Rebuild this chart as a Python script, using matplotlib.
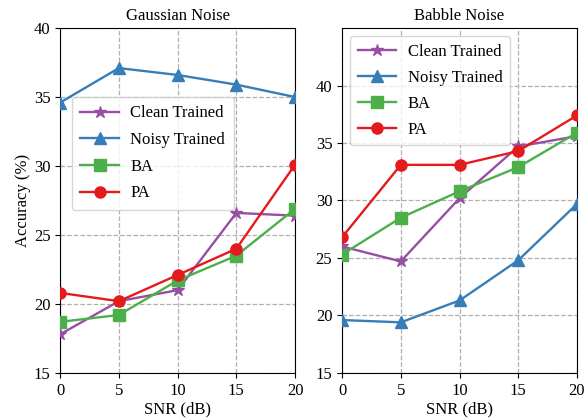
import matplotlib
matplotlib.use('Agg')
import matplotlib.pyplot as plt

plt.rcParams['font.family'] = ['Liberation Serif', 'DejaVu Serif']
plt.rcParams['font.size'] = 12

snr = [0, 5, 10, 15, 20]
labels = ['Clean Trained', 'Noisy Trained', 'BA', 'PA']
colors = ['#984ea3', '#377eb8', '#4daf4a', '#e41a1c']
markers = ['*', '^', 's', 'o']

gauss_clean = [17.8, 20.2, 21.0, 26.6, 26.4]
gauss_noisy = [34.6, 37.1, 36.6, 35.9, 35.0]
gauss_ba = [18.7, 19.2, 21.7, 23.5, 26.9]
gauss_pa = [20.8, 20.2, 22.1, 24.0, 30.1]

babble_clean = [26.0, 24.7, 30.2, 34.7, 35.6]
babble_noisy = [19.6, 19.4, 21.3, 24.8, 29.7]
babble_ba = [25.3, 28.5, 30.8, 32.9, 35.9]
babble_pa = [26.8, 33.1, 33.1, 34.3, 37.4]

fig, (ax1, ax2) = plt.subplots(1, 2, figsize=(5.84, 4.19), dpi=100)
fig.subplots_adjust(left=0.103, right=0.988, bottom=0.11, top=0.933, wspace=0.2)


def draw(ax, series, title, ylim):
    for vals, lab, c, m in zip(series, labels, colors, markers):
        ms = 9 if m == '*' else 8
        ax.plot(snr, vals, color=c, marker=m, markersize=ms, linewidth=1.7, label=lab, zorder=3)
    ax.set_title(title, fontsize=12)
    ax.set_xlim(0, 20)
    ax.set_ylim(*ylim)
    ax.set_xticks(snr)
    ax.set_yticks([15, 20, 25, 30, 35, 40])
    ax.grid(True, linestyle='--', color='#b0b0b0', linewidth=0.9)
    ax.set_xlabel('SNR (dB)', fontsize=12, labelpad=2)


draw(ax1, [gauss_clean, gauss_noisy, gauss_ba, gauss_pa], 'Gaussian Noise', (15, 40))
draw(ax2, [babble_clean, babble_noisy, babble_ba, babble_pa], 'Babble Noise', (15, 45))
ax1.set_ylabel('Accuracy (%)', fontsize=12, labelpad=2)
ax1.legend(loc='upper left', bbox_to_anchor=(0.051, 0.80), borderaxespad=0,
           handlelength=2.3, handletextpad=0.7, labelspacing=0.64, borderpad=0.5,
           fontsize=12)
ax2.legend(loc='upper left', bbox_to_anchor=(0.034, 0.977), borderaxespad=0,
           handlelength=2.3, handletextpad=0.7, labelspacing=0.6, borderpad=0.45,
           fontsize=12)

plt.savefig('out.png', dpi=100)
